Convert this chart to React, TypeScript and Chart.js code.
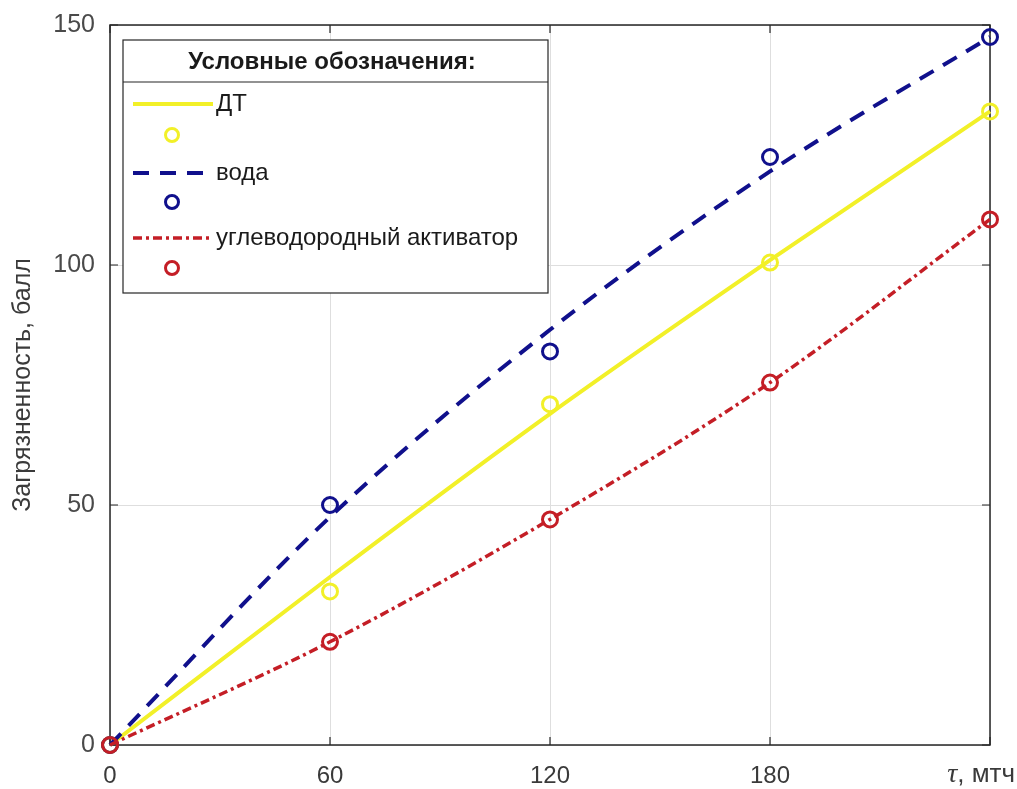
import React, { useEffect, useRef } from "react";
import { Chart, registerables } from "chart.js";

Chart.register(...registerables);

// ---- data ----
const timeMin = [0, 60, 120, 180, 240];
const xTicks = [0, 60, 120, 180, 240];
const yTicks = [0, 50, 100, 150];

const dtFit = [0, 35, 69, 101, 132];
const dtMeasured = [0, 32, 71, 100.5, 132];
const waterFit = [0, 47.5, 86.5, 119.5, 147.5];
const waterMeasured = [0, 50, 82, 122.5, 147.5];
const activatorFit = [0, 21.5, 47, 75.5, 109.5];
const activatorMeasured = [0, 21.5, 47, 75.5, 109.5];

const seriesLabels = ["ДТ", "", "вода", "", "углеводородный активатор", ""];
const legendTitle = "Условные обозначения:";
const yTitle = "Загрязненность, балл";
const xUnitSymbol = "τ";
const xUnitText = ", мтч";

const YELLOW = "rgb(242,240,40)";
const BLUE = "rgb(16,16,140)";
const RED = "rgb(196,30,38)";
const FONT = "'Liberation Sans', Arial, sans-serif";

const pts = (ys: number[]) => timeMin.map((x, i) => ({ x, y: ys[i] }));

const lineDs = (label: string, ys: number[], color: string, width: number, dash: number[], order: number) => ({
  label,
  data: pts(ys),
  borderColor: color,
  backgroundColor: color,
  borderWidth: width,
  borderDash: dash,
  pointRadius: 0,
  cubicInterpolationMode: "monotone" as const,
  fill: false,
  clip: false as const,
  order,
});

const markerDs = (label: string, ys: number[], color: string, order: number) => ({
  label,
  data: pts(ys),
  showLine: false,
  borderColor: color,
  backgroundColor: "rgba(0,0,0,0)",
  pointBorderColor: color,
  pointBackgroundColor: "rgba(0,0,0,0)",
  pointBorderWidth: 3,
  pointRadius: 7.5,
  pointStyle: "circle" as const,
  clip: false as const,
  order,
});

const framePlugin = {
  id: "matlabFrame",
  beforeDatasetsDraw(chart: any) {
    const { ctx, chartArea: a, scales } = chart;
    ctx.save();
    ctx.strokeStyle = "#262626";
    ctx.lineWidth = 1.5;
    ctx.strokeRect(a.left, a.top, a.right - a.left, a.bottom - a.top);
    const tl = 8;
    ctx.lineWidth = 1.2;
    xTicks.forEach((v) => {
      const x = scales.x.getPixelForValue(v);
      ctx.beginPath();
      ctx.moveTo(x, a.bottom);
      ctx.lineTo(x, a.bottom - tl);
      ctx.moveTo(x, a.top);
      ctx.lineTo(x, a.top + tl);
      ctx.stroke();
    });
    yTicks.forEach((v) => {
      const y = scales.y.getPixelForValue(v);
      ctx.beginPath();
      ctx.moveTo(a.left, y);
      ctx.lineTo(a.left + tl, y);
      ctx.moveTo(a.right, y);
      ctx.lineTo(a.right - tl, y);
      ctx.stroke();
    });
    ctx.restore();
  },
  afterDraw(chart: any) {
    const { ctx } = chart;
    ctx.save();
    // x unit label at the last tick
    ctx.textBaseline = "middle";
    ctx.fillStyle = "#3a3a3a";
    const symFont = `italic 28px 'Liberation Serif', 'Times New Roman', serif`;
    const restFont = `26px ${FONT}`;
    ctx.font = symFont;
    const symW = ctx.measureText(xUnitSymbol).width;
    ctx.font = restFont;
    const restW = ctx.measureText(xUnitText).width;
    const startX = 1015 - (symW + restW);
    ctx.textAlign = "left";
    ctx.font = symFont;
    ctx.fillText(xUnitSymbol, startX, 775);
    ctx.font = restFont;
    ctx.fillText(xUnitText, startX + symW, 775);

    // legend box
    const bx = 123, by = 40, bw = 425, bh = 253;
    ctx.fillStyle = "#ffffff";
    ctx.fillRect(bx, by, bw, bh);
    ctx.strokeStyle = "#262626";
    ctx.lineWidth = 1.2;
    ctx.strokeRect(bx, by, bw, bh);
    ctx.beginPath();
    ctx.moveTo(bx, 82);
    ctx.lineTo(bx + bw, 82);
    ctx.stroke();
    ctx.fillStyle = "#1a1a1a";
    ctx.font = `bold 24px ${FONT}`;
    ctx.textAlign = "center";
    ctx.fillText(legendTitle, 332, 62);

    const rowsY = [104, 135, 173, 202, 238, 268];
    const dsList = chart.data.datasets;
    dsList.forEach((ds: any, i: number) => {
      const y = rowsY[i];
      if (ds.showLine === false) {
        ctx.beginPath();
        ctx.strokeStyle = ds.pointBorderColor;
        ctx.lineWidth = 3;
        ctx.arc(172, y, 6.5, 0, Math.PI * 2);
        ctx.stroke();
      } else {
        ctx.beginPath();
        ctx.strokeStyle = ds.borderColor;
        ctx.lineWidth = ds.borderWidth;
        ctx.setLineDash(ds.borderDash || []);
        ctx.moveTo(133, y);
        ctx.lineTo(213, y);
        ctx.stroke();
        ctx.setLineDash([]);
        ctx.fillStyle = "#1a1a1a";
        ctx.font = `24px ${FONT}`;
        ctx.textAlign = "left";
        ctx.fillText(ds.label, 216, y);
      }
    });
    ctx.restore();
  },
};

export default function App() {
  const ref = useRef<HTMLCanvasElement | null>(null);
  useEffect(() => {
    if (!ref.current) return;
    const chart = new Chart(ref.current, {
      type: "line",
      data: {
        datasets: [
          lineDs(seriesLabels[0], dtFit, YELLOW, 4, [], 6),
          markerDs(seriesLabels[1], dtMeasured, YELLOW, 5),
          lineDs(seriesLabels[2], waterFit, BLUE, 4, [16, 11], 4),
          markerDs(seriesLabels[3], waterMeasured, BLUE, 3),
          lineDs(seriesLabels[4], activatorFit, RED, 3.5, [9, 4, 3, 4], 2),
          markerDs(seriesLabels[5], activatorMeasured, RED, 1),
        ] as any,
      },
      options: {
        responsive: false,
        animation: false,
        layout: { padding: { left: 0, top: 25, right: 27, bottom: 0 } },
        plugins: { legend: { display: false }, tooltip: { enabled: false } },
        scales: {
          x: {
            type: "linear",
            min: 0,
            max: 240,
            afterFit: (s: any) => {
              s.height = 44;
              s.paddingLeft = 0;
              s.paddingRight = 0;
            },
            afterBuildTicks: (s: any) => {
              s.ticks = xTicks.map((v) => ({ value: v }));
            },
            ticks: {
              padding: 17,
              maxRotation: 0,
              autoSkip: false,
              color: "#3a3a3a",
              font: { family: FONT, size: 24 },
              callback: (v: any) => (Number(v) === 240 ? "" : String(v)),
            },
            grid: { color: "#dedede", lineWidth: 1, drawTicks: false },
            border: { display: false },
          },
          y: {
            type: "linear",
            min: 0,
            max: 150,
            afterFit: (s: any) => {
              s.width = 110;
              s.paddingTop = 0;
              s.paddingBottom = 0;
            },
            afterBuildTicks: (s: any) => {
              s.ticks = yTicks.map((v) => ({ value: v }));
            },
            ticks: {
              padding: 15,
              color: "#4a4a4a",
              font: { family: FONT, size: 25 },
            },
            title: {
              display: true,
              text: yTitle,
              color: "#3a3a3a",
              font: { family: FONT, size: 25 },
              padding: { top: 8, bottom: 0 },
            },
            grid: { color: "#dedede", lineWidth: 1, drawTicks: false },
            border: { display: false },
          },
        },
      },
      plugins: [framePlugin],
    });
    return () => chart.destroy();
  }, []);
  return (
    <div style={{ position: "absolute", left: 0, top: 0, width: 1017, height: 789, background: "#fff" }}>
      <canvas ref={ref} width={1017} height={789} style={{ display: "block" }} />
    </div>
  );
}
